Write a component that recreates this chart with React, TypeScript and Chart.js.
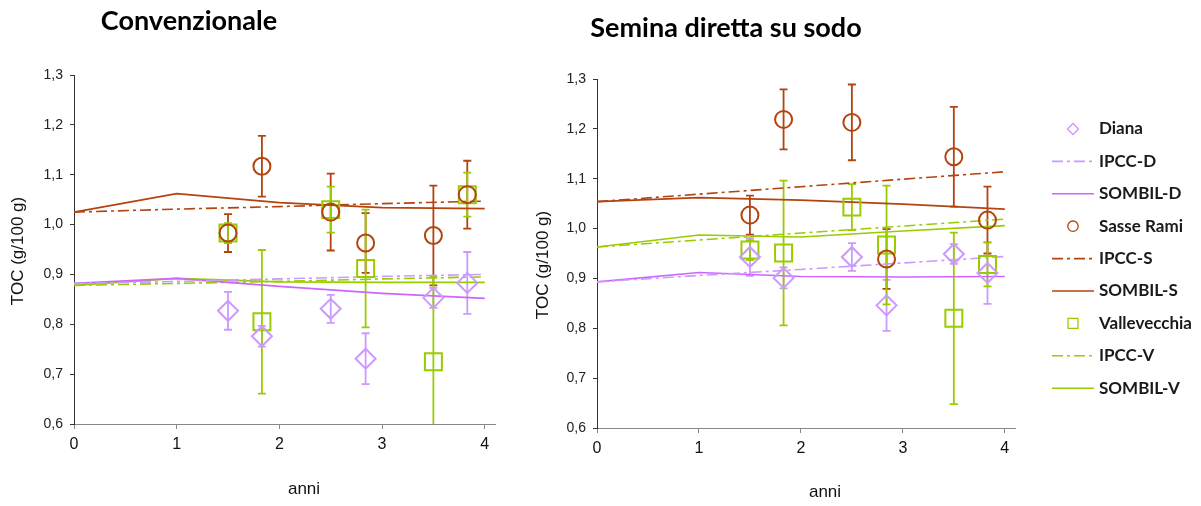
import React, { useEffect, useRef } from 'react';
import { Chart, registerables } from 'chart.js';

Chart.register(...registerables);

// ---------- data ----------
const lineYears = [0, 1, 2, 3, 4];
const sampleYears = [1.5, 1.83, 2.5, 2.84, 3.5, 3.83];

// Convenzionale
const dianaConv = [0.827, 0.776, 0.831, 0.731, 0.853, 0.883];
const dianaConvErr = [0.038, 0.021, 0.028, 0.051, 0.02, 0.062];
const sasseConv = [0.983, 1.117, 1.025, 0.963, 0.978, 1.06];
const sasseConvErr = [0.038, 0.061, 0.077, 0.06, 0.1, 0.068];
const valleConv = [0.983, 0.805, 1.03, 0.912, 0.725, 1.06];
const valleConvErr = [0.02, 0.144, 0.046, 0.118, 0.17, 0.044];
const ipccDConv = [0.882, 0.886, 0.891, 0.896, 0.9];
const sombilDConv = [0.882, 0.892, 0.876, 0.862, 0.852];
const ipccSConv = [1.025, 1.031, 1.036, 1.042, 1.047];
const sombilSConv = [1.025, 1.062, 1.044, 1.034, 1.032];
const ipccVConv = [0.878, 0.882, 0.886, 0.891, 0.895];
const sombilVConv = [0.878, 0.892, 0.885, 0.884, 0.884];

// Semina diretta su sodo
const dianaSod = [0.943, 0.901, 0.943, 0.846, 0.949, 0.911];
const dianaSodErr = [0.038, 0.021, 0.028, 0.051, 0.02, 0.062];
const sasseSod = [1.027, 1.219, 1.213, 0.939, 1.144, 1.017];
const sasseSodErr = [0.039, 0.06, 0.076, 0.06, 0.1, 0.067];
const valleSod = [0.957, 0.951, 1.043, 0.967, 0.82, 0.928];
const valleSodErr = [0.02, 0.145, 0.046, 0.119, 0.172, 0.044];
const ipccDSod = [0.893, 0.906, 0.918, 0.931, 0.944];
const sombilDSod = [0.893, 0.912, 0.904, 0.903, 0.904];
const ipccSSod = [1.054, 1.069, 1.084, 1.099, 1.114];
const sombilSSod = [1.054, 1.062, 1.057, 1.049, 1.039];
const ipccVSod = [0.963, 0.977, 0.991, 1.005, 1.019];
const sombilVSod = [0.963, 0.987, 0.983, 0.995, 1.006];

const seriesLabels = ['Diana', 'IPCC-D', 'SOMBIL-D', 'Sasse Rami', 'IPCC-S', 'SOMBIL-S', 'Vallevecchia', 'IPCC-V', 'SOMBIL-V'];
const chartTitles = ['Convenzionale', 'Semina diretta su sodo'];
const xTitle = 'anni';
const yTitle = 'TOC (g/100 g)';

// ---------- styles ----------
const PURPLE_LIGHT = '#CC99FF';
const PURPLE = '#CC66FF';
const BROWN = '#B3430F';
const GREEN = '#99CC00';
const DASHDOT = [11, 4, 3, 4];
const TICK_FONT = "'Liberation Sans', Arial, sans-serif";
const TITLE_FONT = "Lato, 'Open Sans', sans-serif";

const pts = (xs: number[], ys: number[]) => xs.map((x, i) => ({ x, y: ys[i] }));

function buildDatasets(s: any) {
  const pointDs = (label: string, ys: number[], errs: number[], style: string, radius: number, color: string) => ({
    label,
    data: pts(sampleYears, ys),
    errors: errs,
    kind: 'point',
    showLine: false,
    pointStyle: style,
    pointRadius: radius,
    pointHoverRadius: radius,
    pointBorderWidth: 2,
    borderColor: color,
    pointBorderColor: color,
    backgroundColor: 'rgba(0,0,0,0)',
    pointBackgroundColor: 'rgba(0,0,0,0)',
    order: 0,
  });
  const lineDs = (label: string, ys: number[], color: string, dash: number[]) => ({
    label,
    data: pts(lineYears, ys),
    kind: 'line',
    showLine: true,
    tension: 0,
    fill: false,
    pointRadius: 0,
    pointHoverRadius: 0,
    borderColor: color,
    backgroundColor: color,
    borderWidth: 1.6,
    borderDash: dash,
    order: 1,
  });
  return [
    pointDs(seriesLabels[0], s.diana, s.dianaErr, 'rectRot', 10, PURPLE_LIGHT),
    lineDs(seriesLabels[1], s.ipccD, PURPLE_LIGHT, DASHDOT),
    lineDs(seriesLabels[2], s.sombilD, PURPLE, []),
    pointDs(seriesLabels[3], s.sasse, s.sasseErr, 'circle', 8.5, BROWN),
    lineDs(seriesLabels[4], s.ipccS, BROWN, DASHDOT),
    lineDs(seriesLabels[5], s.sombilS, BROWN, []),
    pointDs(seriesLabels[6], s.valle, s.valleErr, 'rect', 12, GREEN),
    lineDs(seriesLabels[7], s.ipccV, GREEN, DASHDOT),
    lineDs(seriesLabels[8], s.sombilV, GREEN, []),
  ];
}

const errorBarPlugin = {
  id: 'errorBars',
  beforeDatasetsDraw(chart: any) {
    const { ctx, chartArea, scales } = chart;
    const xs = scales.x, ys = scales.y;
    ctx.save();
    ctx.beginPath();
    ctx.rect(chartArea.left, chartArea.top - 10, chartArea.right - chartArea.left, chartArea.bottom - chartArea.top + 10);
    ctx.clip();
    chart.data.datasets.forEach((ds: any) => {
      if (!ds.errors) return;
      ctx.strokeStyle = ds.borderColor;
      ctx.lineWidth = 1.8;
      ds.data.forEach((p: any, i: number) => {
        const e = ds.errors[i];
        const px = xs.getPixelForValue(p.x);
        const yt = ys.getPixelForValue(p.y + e);
        const yb = ys.getPixelForValue(p.y - e);
        ctx.beginPath();
        ctx.moveTo(px, yt);
        ctx.lineTo(px, yb);
        ctx.moveTo(px - 4, yt);
        ctx.lineTo(px + 4, yt);
        ctx.moveTo(px - 4, yb);
        ctx.lineTo(px + 4, yb);
        ctx.stroke();
      });
    });
    ctx.restore();
  },
};

function textPlugin(items: any[]) {
  return {
    id: 'texts',
    afterDraw(chart: any) {
      const ctx = chart.ctx;
      items.forEach((it) => {
        ctx.save();
        ctx.translate(it.x, it.y);
        ctx.rotate(it.rotation || 0);
        ctx.font = it.font;
        ctx.fillStyle = it.color || '#000';
        ctx.textAlign = it.align || 'center';
        ctx.textBaseline = 'middle';
        ctx.fillText(it.text, 0, 0);
        ctx.restore();
      });
    },
  };
}

function legendPlugin(cfg: { lineX0: number; lineX1: number; markerX: number; textX: number; y0: number; dy: number }) {
  return {
    id: 'customLegend',
    afterDraw(chart: any) {
      const ctx = chart.ctx;
      chart.data.datasets.forEach((ds: any, i: number) => {
        const y = cfg.y0 + i * cfg.dy;
        ctx.save();
        ctx.strokeStyle = ds.borderColor;
        if (ds.kind === 'line') {
          ctx.lineWidth = 1.6;
          ctx.setLineDash(ds.borderDash || []);
          ctx.beginPath();
          ctx.moveTo(cfg.lineX0, y);
          ctx.lineTo(cfg.lineX1, y);
          ctx.stroke();
        } else {
          ctx.lineWidth = 1.3;
          ctx.beginPath();
          const x = cfg.markerX;
          if (ds.pointStyle === 'rectRot') {
            ctx.moveTo(x - 5.5, y);
            ctx.lineTo(x, y - 5.5);
            ctx.lineTo(x + 5.5, y);
            ctx.lineTo(x, y + 5.5);
            ctx.closePath();
          } else if (ds.pointStyle === 'circle') {
            ctx.arc(x, y, 5.2, 0, Math.PI * 2);
          } else {
            ctx.rect(x - 5, y - 5, 10, 10);
          }
          ctx.stroke();
        }
        ctx.setLineDash([]);
        ctx.font = `bold 17px ${TITLE_FONT}`;
        ctx.fillStyle = '#1a1a1a';
        ctx.textAlign = 'left';
        ctx.textBaseline = 'middle';
        ctx.fillText(ds.label, cfg.textX, y);
        ctx.restore();
      });
    },
  };
}

function makeOptions(yWidth: number, xHeight: number, padding: any) {
  return {
    responsive: false,
    animation: false as const,
    events: [],
    layout: { padding },
    plugins: { legend: { display: false }, tooltip: { enabled: false }, title: { display: false } },
    scales: {
      x: {
        type: 'linear' as const,
        min: 0,
        max: 4.1,
        afterFit: (s: any) => { s.height = xHeight; },
        ticks: {
          stepSize: 1,
          includeBounds: false,
          padding: 6,
          color: '#111',
          font: { family: TICK_FONT, size: 16 },
          callback: (v: any) => String(v),
        },
        grid: { drawOnChartArea: false, drawTicks: true, tickLength: 5, color: '#888', tickColor: '#888' },
        border: { display: true, color: '#888', width: 1 },
      },
      y: {
        type: 'linear' as const,
        min: 0.6,
        max: 1.3,
        afterFit: (s: any) => { s.width = yWidth; },
        ticks: {
          stepSize: 0.1,
          padding: 7,
          color: '#222',
          font: { family: TICK_FONT, size: 14 },
          callback: (v: any) => Number(v).toFixed(1).replace('.', ','),
        },
        grid: { drawOnChartArea: false, drawTicks: true, tickLength: 4, color: '#333', tickColor: '#333' },
        border: { display: true, color: '#333', width: 1 },
      },
    },
  };
}

function LeftChart() {
  const ref = useRef<HTMLCanvasElement>(null);
  useEffect(() => {
    const datasets = buildDatasets({
      diana: dianaConv, dianaErr: dianaConvErr, sasse: sasseConv, sasseErr: sasseConvErr,
      valle: valleConv, valleErr: valleConvErr, ipccD: ipccDConv, sombilD: sombilDConv,
      ipccS: ipccSConv, sombilS: sombilSConv, ipccV: ipccVConv, sombilV: sombilVConv,
    });
    const chart = new Chart(ref.current as HTMLCanvasElement, {
      type: 'scatter',
      data: { datasets: datasets as any },
      options: makeOptions(74, 82, { top: 75, right: 25, left: 0, bottom: 0 }) as any,
      plugins: [
        errorBarPlugin,
        textPlugin([
          { text: chartTitles[0], x: 189, y: 21, font: `bold 27px ${TITLE_FONT}`, color: '#000' },
          { text: xTitle, x: 304, y: 489, font: `17px ${TICK_FONT}`, color: '#111' },
          { text: yTitle, x: 18, y: 251, font: `17px ${TICK_FONT}`, color: '#111', rotation: -Math.PI / 2 },
        ]),
      ] as any,
    });
    return () => chart.destroy();
  }, []);
  return <canvas ref={ref} width={520} height={506} style={{ position: 'absolute', left: 0, top: 0 }} />;
}

function RightChart() {
  const ref = useRef<HTMLCanvasElement>(null);
  useEffect(() => {
    const datasets = buildDatasets({
      diana: dianaSod, dianaErr: dianaSodErr, sasse: sasseSod, sasseErr: sasseSodErr,
      valle: valleSod, valleErr: valleSodErr, ipccD: ipccDSod, sombilD: sombilDSod,
      ipccS: ipccSSod, sombilS: sombilSSod, ipccV: ipccVSod, sombilV: sombilVSod,
    });
    const chart = new Chart(ref.current as HTMLCanvasElement, {
      type: 'scatter',
      data: { datasets: datasets as any },
      options: makeOptions(77, 78, { top: 79, right: 186, left: 0, bottom: 0 }) as any,
      plugins: [
        errorBarPlugin,
        textPlugin([
          { text: chartTitles[1], x: 206, y: 28, font: `bold 27px ${TITLE_FONT}`, color: '#000' },
          { text: xTitle, x: 305, y: 492, font: `17px ${TICK_FONT}`, color: '#111' },
          { text: yTitle, x: 23, y: 265, font: `17px ${TICK_FONT}`, color: '#111', rotation: -Math.PI / 2 },
        ]),
        legendPlugin({ lineX0: 532, lineX1: 574, markerX: 553, textX: 579, y0: 129, dy: 32.4 }),
      ] as any,
    });
    return () => chart.destroy();
  }, []);
  return <canvas ref={ref} width={681} height={506} style={{ position: 'absolute', left: 520, top: 0 }} />;
}

export default function App() {
  return (
    <div style={{ position: 'absolute', left: 0, top: 0, width: 1201, height: 506, background: '#fff' }}>
      <LeftChart />
      <RightChart />
    </div>
  );
}
